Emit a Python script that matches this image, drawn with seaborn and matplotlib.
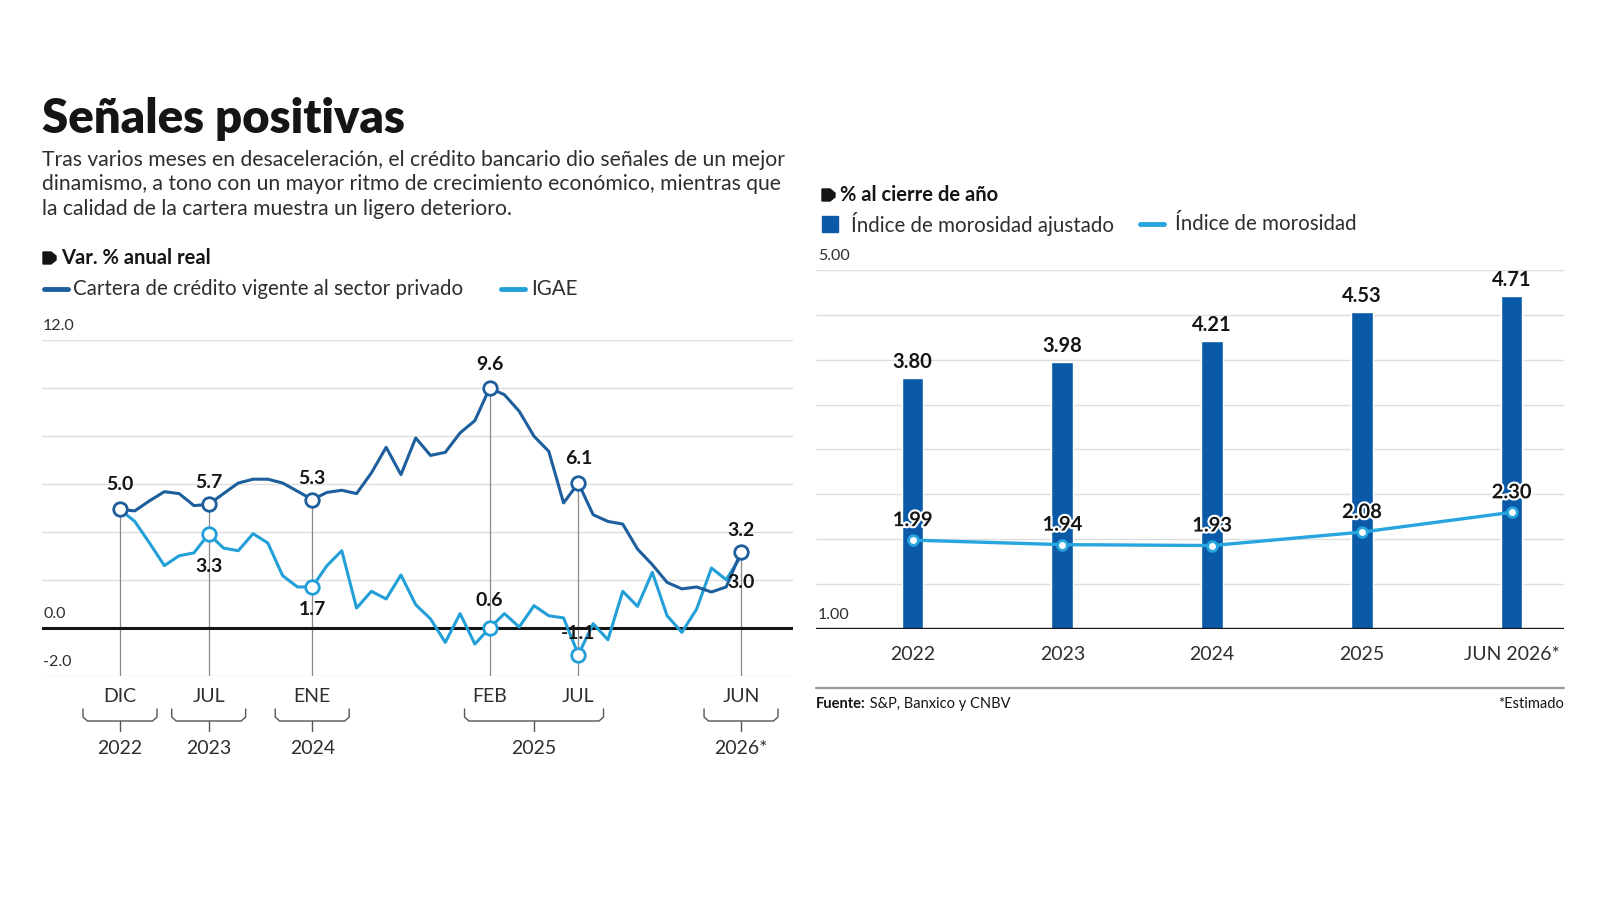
import numpy as np
import matplotlib
matplotlib.use("Agg")
import matplotlib.pyplot as plt
import matplotlib.patheffects as pe
from matplotlib.lines import Line2D
from matplotlib.patches import Polygon, Rectangle
import seaborn as sns

# ---- left panel: var. % anual real, monthly DIC 2022 -> JUN 2026 ----
credito = [4.94, 4.88, 5.30, 5.68, 5.60, 5.10, 5.15, 5.60, 6.04, 6.20, 6.20, 6.04, 5.70,
           5.35, 5.65, 5.74, 5.60, 6.46, 7.53, 6.39, 7.92, 7.19, 7.32, 8.13, 8.64, 10.0,
           9.72, 9.03, 7.99, 7.36, 5.21, 6.04, 4.72, 4.44, 4.33, 3.29, 2.64, 1.90, 1.63,
           1.71, 1.50, 1.71, 3.17]
igae = [4.94, 4.44, 3.54, 2.60, 3.01, 3.13, 3.92, 3.33, 3.22, 3.93, 3.54, 2.18, 1.71,
        1.71, 2.60, 3.22, 0.83, 1.53, 1.21, 2.21, 0.97, 0.38, -0.60, 0.60, -0.67, 0.00,
        0.60, 0.04, 0.93, 0.51, 0.42, -1.11, 0.18, -0.49, 1.53, 0.90, 2.32, 0.51, -0.18,
        0.79, 2.50, 2.01, 3.00]
mark_idx = [0, 6, 13, 25, 31, 42]
mark_month = ["DIC", "JUL", "ENE", "FEB", "JUL", "JUN"]
credito_lbl = ["5.0", "5.7", "5.3", "9.6", "6.1", "3.2"]
igae_lbl = [None, "3.3", "1.7", "0.6", "-1.1", "3.0"]
year_lbl = ["2022", "2023", "2024", "2025", "2026*"]
year_span = [(0, 0), (6, 6), (13, 13), (25, 31), (42, 42)]

# ---- right panel: % al cierre de año ----
anios = ["2022", "2023", "2024", "2025", "JUN 2026*"]
moro_ajustado = [3.80, 3.98, 4.21, 4.53, 4.71]
morosidad = [1.99, 1.94, 1.93, 2.08, 2.30]

DARK = "#1d5e9c"
LIGHT = "#239fd8"
BAR = "#0b5aa8"
LINE2 = "#27a5de"
INK = "#151515"
GREY = "#2e2e2e"
GRID = "#dedede"
BODY = "normal"

sns.set_theme(style="white")
plt.rcParams["font.family"] = ["Lato", "DejaVu Sans"]

W, H = 1600, 901
fig = plt.figure(figsize=(16, 9.01), dpi=100)


def fx(px):
    return px / W


def fy(py):
    return 1 - py / H


def tag(x, y):
    # little black tag used before the section headers
    pts = [(x, y - 6), (x + 8, y - 6), (x + 13, y - 2), (x + 13, y + 2), (x + 8, y + 6), (x, y + 6)]
    fig.add_artist(Polygon([(fx(a), fy(b)) for a, b in pts], closed=True,
                           transform=fig.transFigure, color=INK))


def legend_line(x, y, color, w=24):
    fig.add_artist(Line2D([fx(x), fx(x + w)], [fy(y), fy(y)], transform=fig.transFigure,
                          color=color, lw=3.5, solid_capstyle="round"))


# header
fig.text(fx(42), fy(119), "Señales positivas", fontsize=34, fontweight="heavy", color=INK,
         va="center", ha="left")
sub = ("Tras varios meses en desaceleración, el crédito bancario dio señales de un mejor\n"
       "dinamismo, a tono con un mayor ritmo de crecimiento económico, mientras que\n"
       "la calidad de la cartera muestra un ligero deterioro.")
fig.text(fx(42), fy(150), sub, fontsize=15.2, fontweight=BODY, color=GREY, va="top",
         ha="left", linespacing=1.28)

# left header + legend
tag(43, 258)
fig.text(fx(61), fy(258), "Var. % anual real", fontsize=14.5, fontweight="bold", color=INK,
         va="center")
legend_line(44, 289, DARK)
fig.text(fx(73), fy(289), "Cartera de crédito vigente al sector privado", fontsize=14.8,
         fontweight=BODY, color=GREY, va="center")
legend_line(501, 289, LIGHT)
fig.text(fx(531), fy(289), "IGAE", fontsize=14.8, fontweight=BODY, color=GREY, va="center")

# ---- left axes ----
ax = fig.add_axes([fx(42), fy(676), fx(793) - fx(42), (676 - 340) / H])
x = np.arange(len(credito))
sns.lineplot(x=x, y=igae, ax=ax, color=LIGHT, lw=2.2, zorder=3)
sns.lineplot(x=x, y=credito, ax=ax, color=DARK, lw=2.2, zorder=4)
ax.set_xlim((42 - 120) / 14.786, (793 - 120) / 14.786)
ax.set_ylim(-2, 12)
ax.set_yticks(range(-2, 13, 2))
ax.yaxis.grid(True, color=GRID, lw=1)
ax.axhline(0, color=INK, lw=2.2, zorder=2)
for s in ax.spines.values():
    s.set_visible(False)
ax.tick_params(left=False, labelleft=False)
ax.set_xticks(mark_idx)
ax.set_xticklabels(mark_month)
ax.tick_params(axis="x", length=0, pad=9, labelsize=14, labelcolor=GREY)
for t in ax.get_xticklabels():
    t.set_fontweight(BODY)
for v, s in [(12, "12.0"), (0, "0.0"), (-2, "-2.0")]:
    ax.annotate(s, xy=(0, v), xycoords=("axes fraction", "data"), xytext=(1, 14),
                textcoords="offset pixels", ha="left", va="center", fontsize=11.5,
                fontweight=BODY, color=GREY)

# guide lines, markers and labels
for k, i in enumerate(mark_idx):
    top = max(credito[i], igae[i])
    ax.plot([i, i], [-2, top], color="#8a8a8a", lw=0.9, zorder=1)
ax.scatter(mark_idx, [credito[i] for i in mark_idx], s=95, facecolor="white",
           edgecolor=DARK, linewidth=2, zorder=6)
igae_m = [i for i, l in zip(mark_idx, igae_lbl) if l is not None and i != 42]
ax.scatter(igae_m, [igae[i] for i in igae_m], s=95, facecolor="white",
           edgecolor=LIGHT, linewidth=2, zorder=5)
c_off = [25, 22, 21, 23, 25, 21]
g_off = [0, -33, -23, 27, 21, -27]
for k, i in enumerate(mark_idx):
    ax.annotate(credito_lbl[k], xy=(i, credito[i]), xytext=(0, c_off[k]),
                textcoords="offset pixels", ha="center", va="center", fontsize=14,
                fontweight="bold", color=INK, zorder=7)
    if igae_lbl[k] is not None:
        ax.annotate(igae_lbl[k], xy=(i, igae[i]), xytext=(0, g_off[k]),
                    textcoords="offset pixels", ha="center", va="center", fontsize=14,
                    fontweight="bold", color=INK, zorder=7)

# year brackets under the month labels
tr = ax.get_xaxis_transform()
ah = 676 - 340
y_top, y_bot, y_tick = -33 / ah, -45 / ah, -55 / ah
r = 4 / ah
for (a, b), lbl in zip(year_span, year_lbl):
    pad = 2.5 if a == b else 1.7
    x0, x1 = a - pad, b + pad
    xs = [x0, x0, x0 + 0.3, x1 - 0.3, x1, x1]
    ys = [y_top, y_bot + r, y_bot, y_bot, y_bot + r, y_top]
    ax.plot(xs, ys, transform=tr, color="#555555", lw=1, clip_on=False)
    xc = (a + b) / 2
    ax.plot([xc, xc], [y_bot, y_tick], transform=tr, color="#555555", lw=1, clip_on=False)
    ax.text(xc, -72 / ah, lbl, transform=tr, ha="center", va="center", fontsize=14,
            fontweight=BODY, color=GREY)

# ---- right header + legend ----
tag(822, 195)
fig.text(fx(840), fy(195), "% al cierre de año", fontsize=14.5, fontweight="bold", color=INK,
         va="center")
fig.add_artist(Rectangle((fx(822), fy(232)), fx(16), 16 / H, transform=fig.transFigure,
                         color=BAR))
fig.text(fx(851), fy(224), "Índice de morosidad ajustado", fontsize=14.8, fontweight=BODY,
         color=GREY, va="center")
legend_line(1140, 224, LINE2)
fig.text(fx(1175), fy(224), "Índice de morosidad", fontsize=14.8, fontweight=BODY,
         color=GREY, va="center")

# ---- right axes ----
ax2 = fig.add_axes([fx(816), fy(629), fx(1564) - fx(816), (629 - 270) / H])
sns.barplot(x=anios, y=moro_ajustado, ax=ax2, color=BAR, saturation=1, width=0.145, zorder=3)
sns.lineplot(x=np.arange(len(morosidad)), y=morosidad, ax=ax2, color=LINE2, lw=2.4, zorder=4,
             marker="o", markersize=7, markerfacecolor="white", markeredgecolor=LINE2,
             markeredgewidth=2)
ax2.set_xlim(-0.645, 4.35)
ax2.set_ylim(1, 5)
ax2.set_yticks(np.arange(1, 5.01, 0.5))
ax2.yaxis.grid(True, color=GRID, lw=1, zorder=0)
ax2.set_axisbelow(True)
ax2.axhline(1, color=INK, lw=2.4, zorder=5)
for s in ax2.spines.values():
    s.set_visible(False)
ax2.tick_params(left=False, labelleft=False)
ax2.tick_params(axis="x", length=0, pad=12, labelsize=14, labelcolor=GREY)
for t in ax2.get_xticklabels():
    t.set_fontweight(BODY)
ax2.set_xlabel("")
ax2.set_ylabel("")
for v, s in [(5, "5.00"), (1, "1.00")]:
    ax2.annotate(s, xy=(0, v), xycoords=("axes fraction", "data"), xytext=(2, 14),
                 textcoords="offset pixels", ha="left", va="center", fontsize=11.5,
                 fontweight=BODY, color=GREY)
for i, (b, m) in enumerate(zip(moro_ajustado, morosidad)):
    ax2.annotate(f"{b:.2f}", xy=(i, b), xytext=(0, 16), textcoords="offset pixels",
                 ha="center", va="center", fontsize=14.5, fontweight="bold", color=INK)
    ax2.annotate(f"{m:.2f}", xy=(i, m), xytext=(0, 20), textcoords="offset pixels",
                 ha="center", va="center", fontsize=14.5, fontweight="bold", color=INK,
                 zorder=6, path_effects=[pe.withStroke(linewidth=3, foreground="white")])

# source line
fig.add_artist(Line2D([fx(816), fx(1564)], [fy(688), fy(688)], transform=fig.transFigure,
                      color="#9a9a9a", lw=1.6))
t1 = fig.text(fx(816), fy(704), "Fuente:", fontsize=10.5, fontweight="bold", color=INK,
              va="center")
ax2.annotate(" S&P, Banxico y CNBV", xy=(1, 0.5), xycoords=t1, ha="left", va="center",
             fontsize=10.5, fontweight=BODY, color=INK, annotation_clip=False)
fig.text(fx(1564), fy(704), "*Estimado", fontsize=10.5, fontweight=BODY, color=INK,
         va="center", ha="right")

fig.savefig("out.png", dpi=100, facecolor="white")
